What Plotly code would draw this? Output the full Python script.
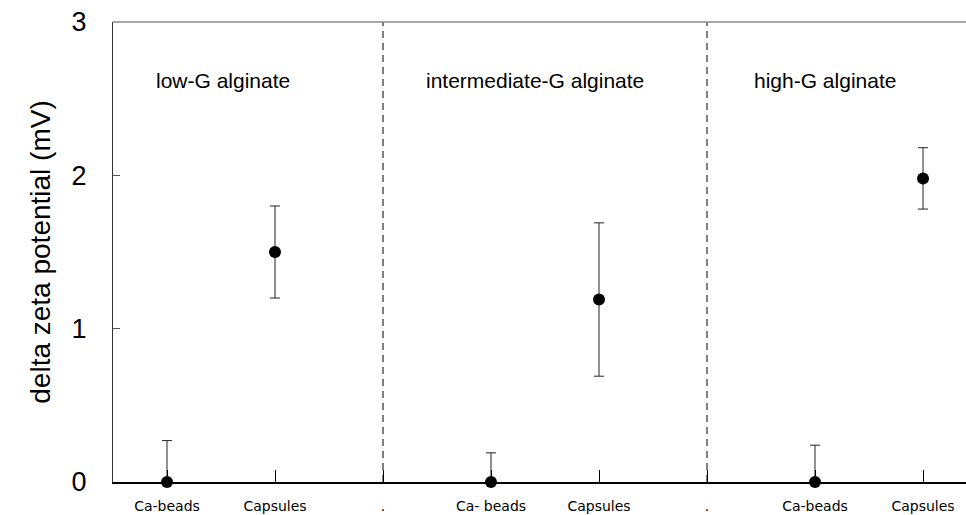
import plotly.graph_objects as go

tick_text = ["Ca-beads", "Capsules", ".", "Ca- beads", "Capsules", ".", "Ca-beads", "Capsules"]
tick_pos = [0, 1, 2, 3, 4, 5, 6, 7]
point_idx = [0, 1, 3, 4, 6, 7]
values = [0.0, 1.50, 0.0, 1.19, 0.0, 1.98]
err_plus = [0.27, 0.30, 0.19, 0.50, 0.24, 0.20]
err_minus = [0.0, 0.30, 0.0, 0.50, 0.0, 0.20]
group_labels = ["low-G alginate", "intermediate-G alginate", "high-G alginate"]
group_label_x = [0.52, 3.41, 6.09]
group_label_y = 2.62
separators = [2, 5]

fig = go.Figure()
fig.add_trace(go.Scatter(
    x=point_idx, y=values, mode="markers",
    marker=dict(color="black", size=12),
    error_y=dict(type="data", symmetric=False, array=err_plus, arrayminus=err_minus,
                 color="#222", thickness=1, width=5),
    cliponaxis=False, showlegend=False,
))

for s in separators:
    fig.add_shape(type="line", xref="x", yref="paper", x0=s, x1=s, y0=0, y1=1,
                  line=dict(color="black", width=1, dash="7px,5px"), layer="below")
fig.add_shape(type="line", xref="paper", yref="paper", x0=0, x1=1, y0=1, y1=1,
              line=dict(color="#888", width=1.5))

for t, x in zip(group_labels, group_label_x):
    fig.add_annotation(x=x, y=group_label_y, text=t, showarrow=False,
                       font=dict(size=21, color="black", family="Liberation Sans, Arial"))

fig.update_layout(
    width=966, height=515,
    margin=dict(l=113, r=0, t=22, b=33),
    paper_bgcolor="white", plot_bgcolor="white",
    font=dict(family="Liberation Sans, Arial", color="black"),
    xaxis=dict(range=[-0.5, 7.398], tickmode="array", tickvals=tick_pos, ticktext=tick_text,
               ticks="inside", ticklen=12, tickcolor="black", tickwidth=1,
               showline=True, linecolor="black", linewidth=1.6, showgrid=False, zeroline=False,
               tickfont=dict(size=14, family="DejaVu Sans"), ticklabelstandoff=10,
               automargin=False),
    yaxis=dict(range=[0, 3], tickvals=[0, 1, 2, 3], ticks="inside", ticklen=7, tickcolor="#555",
               showline=True, linecolor="#333",
               linewidth=1, showgrid=False, zeroline=False, tickfont=dict(size=27),
               ticklabelstandoff=20, automargin=False,
               title=dict(text="delta zeta potential (mV)", font=dict(size=28), standoff=12)),
)

fig.write_html("out.html", config={"displayModeBar": False},
               post_script="document.body.style.margin='0px';")
